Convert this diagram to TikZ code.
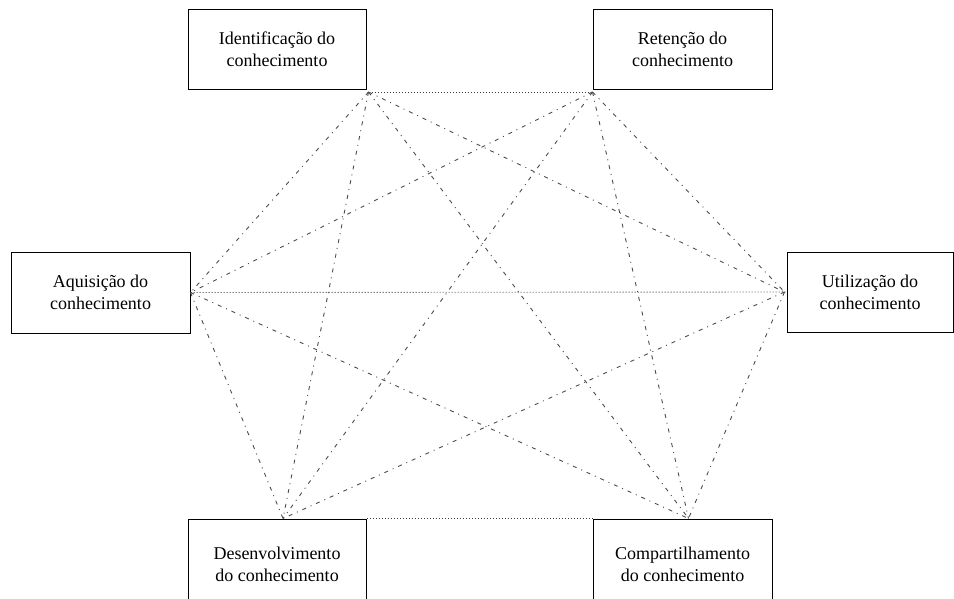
\documentclass[tikz,border=0pt]{standalone}
\usepackage{fontspec}
\setmainfont{Liberation Serif}
\begin{document}
\begin{tikzpicture}[x=1pt,y=-1pt,
  box/.style={draw=black,line width=1pt,rectangle,align=center,inner sep=0pt,
    font=\fontsize{18}{22}\selectfont,fill=white},
  dline/.style={line width=0.9pt,black!75,dash pattern=on 1pt off 2pt},
  ddline/.style={line width=0.9pt,black!70,dash pattern=on 4pt off 5pt on 1pt off 5pt}]
\useasboundingbox (0,0) rectangle (954,599);
% boxes
\node[box,minimum width=178pt,minimum height=80pt] (idf) at (277,49.5) {Identificação do\\conhecimento};
\node[box,minimum width=179pt,minimum height=80pt] (ret) at (682.5,49.5) {Retenção do\\conhecimento};
\node[box,minimum width=179pt,minimum height=81pt] (aqu) at (100.5,292.5) {Aquisição do\\conhecimento};
\node[box,minimum width=166pt,minimum height=80pt] (uti) at (870,292) {Utilização do\\conhecimento};
\node[box,minimum width=178pt,minimum height=90pt] (des) at (277,564) {Desenvolvimento\\do conhecimento};
\node[box,minimum width=179pt,minimum height=90pt] (com) at (682.5,564) {Compartilhamento\\do conhecimento};
% connection points
\coordinate (pI) at ([shift={(2,2)}]idf.south east);
\coordinate (pR) at ([shift={(0,2)}]ret.south west);
\coordinate (pA) at (aqu.east);
\coordinate (pU) at ([shift={(-2,0)}]uti.west);
\coordinate (pD) at ([shift={(6,0)}]des.north);
\coordinate (pC) at ([shift={(6,0)}]com.north);
% horizontal dotted lines
\draw[dline] (pI) -- (pR);
\draw[dline] (aqu.east) -- (uti.west);
\draw[dline] (des.north east) -- (com.north west);
% diagonals
\draw[ddline] (pI) -- (pA);
\draw[ddline] (pI) -- (pD);
\draw[ddline] (pI) -- (pC);
\draw[ddline] (pI) -- (pU);
\draw[ddline] (pR) -- (pA);
\draw[ddline] (pR) -- (pD);
\draw[ddline] (pR) -- (pC);
\draw[ddline] (pR) -- (pU);
\draw[ddline] (pA) -- (pD);
\draw[ddline] (pA) -- (pC);
\draw[ddline] (pU) -- (pD);
\draw[ddline] (pU) -- (pC);
\end{tikzpicture}
\end{document}
